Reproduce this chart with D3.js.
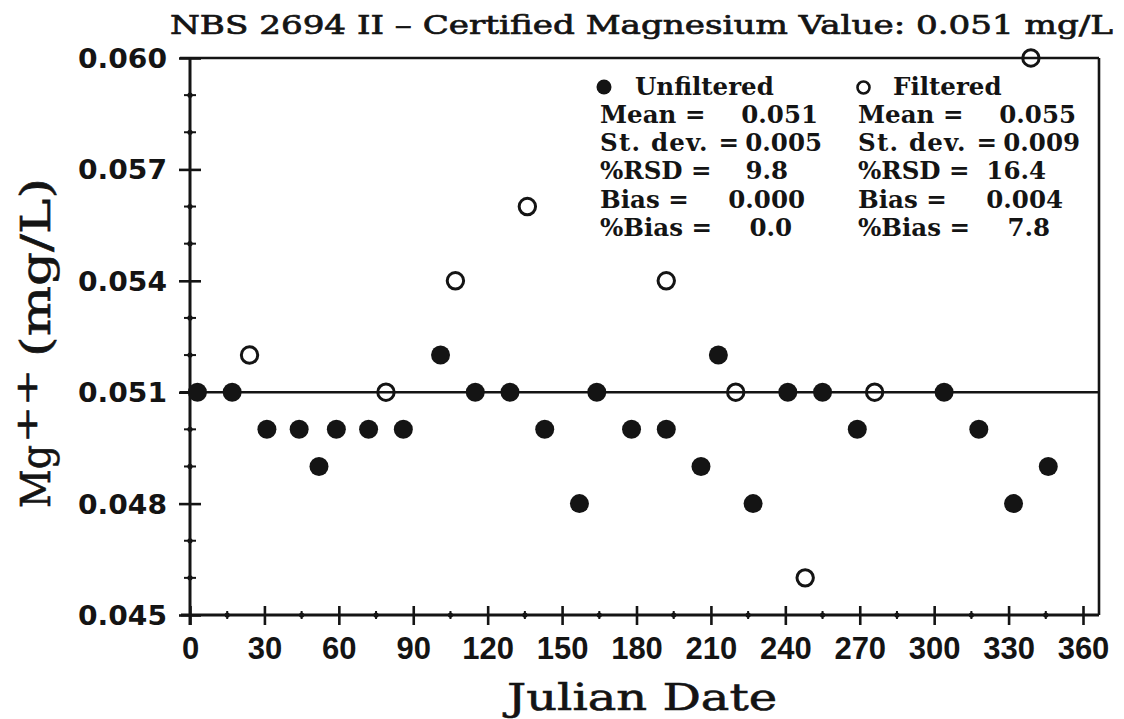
<!DOCTYPE html>
<html>
<head>
<meta charset="utf-8">
<script src="https://cdn.jsdelivr.net/npm/d3@7"></script>
<style>
  body { margin: 0; background: #fff; }
  svg { display: block; }
</style>
</head>
<body>
<svg id="chart" width="1124" height="719"></svg>
<script>
// Mg++ check-standard results over the year
const unfilteredDays = [3, 17, 31, 44, 52, 59, 72, 86, 101, 115, 129, 143, 157, 164, 178, 192, 206, 213, 227, 241, 255, 269, 304, 318, 332, 346];
const unfilteredMg   = [0.051, 0.051, 0.050, 0.050, 0.049, 0.050, 0.050, 0.050, 0.052, 0.051, 0.051, 0.050, 0.048, 0.051, 0.050, 0.050, 0.049, 0.052, 0.048, 0.051, 0.051, 0.050, 0.051, 0.050, 0.048, 0.049];

const filteredDays = [24, 79, 107, 136, 192, 220, 248, 276, 339];
const filteredMg   = [0.052, 0.051, 0.054, 0.056, 0.054, 0.051, 0.046, 0.051, 0.060];

const certifiedValue = 0.051;

// Axis ticks
const xMajorTicks = [0, 30, 60, 90, 120, 150, 180, 210, 240, 270, 300, 330, 360];
const xMinorTicks = [15, 45, 75, 105, 135, 165, 195, 225, 255, 285, 315, 345];
const yMajorTicks = [0.045, 0.048, 0.051, 0.054, 0.057, 0.060];
const yMinorTicks = [0.046, 0.047, 0.049, 0.050, 0.052, 0.053, 0.055, 0.056, 0.058, 0.059];

// Summary statistics
const statLabels      = ["Mean =", "St. dev. =", "%RSD =", "Bias =", "%Bias ="];
const unfilteredStats = ["0.051", "0.005", "9.8", "0.000", "0.0"];
const filteredStats   = ["0.055", "0.009", "16.4", "0.004", "7.8"];

const titleText = "NBS 2694 II \u2013 Certified Magnesium Value: 0.051 mg/L";

const ink = "#141414";
const svg = d3.select("#chart");

const x = d3.scaleLinear().domain([0, 360]).range([190, 1083]);
const y = d3.scaleLinear().domain([0.045, 0.060]).range([615, 58]);
const frameRight = x(360) + 16;

// Title
svg.append("text")
  .attr("x", 170).attr("y", 34)
  .attr("textLength", 943).attr("lengthAdjust", "spacingAndGlyphs")
  .style("font-family", "DejaVu Serif").style("font-size", "26px")
  .attr("fill", ink).attr("stroke", ink).attr("stroke-width", 0.7)
  .text(titleText);

// Frame: top and right edges
svg.append("line")
  .attr("x1", 180).attr("x2", frameRight).attr("y1", y(0.060)).attr("y2", y(0.060))
  .attr("stroke", ink).attr("stroke-width", 2.6);
svg.append("line")
  .attr("x1", frameRight).attr("x2", frameRight).attr("y1", y(0.060)).attr("y2", y(0.045))
  .attr("stroke", ink).attr("stroke-width", 2.6);

// Certified value reference line
svg.append("line")
  .attr("x1", 180).attr("x2", frameRight)
  .attr("y1", y(certifiedValue)).attr("y2", y(certifiedValue))
  .attr("stroke", ink).attr("stroke-width", 2.6);

// Y axis
const yAxis = svg.append("g").attr("transform", `translate(${x(0)},0)`)
  .call(d3.axisLeft(y).tickValues(yMajorTicks).tickFormat(d3.format(".3f")).tickSize(0).tickPadding(23));
yAxis.select(".domain").remove();
yAxis.selectAll(".tick line")
  .attr("x1", -11).attr("x2", 11).attr("stroke", ink).attr("stroke-width", 2.6);
yAxis.selectAll(".tick text")
  .attr("dy", null).attr("y", 9.5)
  .attr("textLength", 89).attr("lengthAdjust", "spacingAndGlyphs")
  .style("font-family", "DejaVu Sans").style("font-weight", "bold").style("font-size", "26px")
  .attr("fill", ink);
svg.append("line")
  .attr("x1", x(0)).attr("x2", x(0)).attr("y1", y(0.060)).attr("y2", y(0.045) + 10)
  .attr("stroke", ink).attr("stroke-width", 3);

const yMinor = svg.append("g");
yMinor.selectAll("line").data(yMinorTicks).join("line")
  .attr("x1", x(0) - 6).attr("x2", x(0) + 6)
  .attr("y1", d => y(d)).attr("y2", d => y(d))
  .attr("stroke", ink).attr("stroke-width", 2);
yMinor.selectAll("circle").data(yMinorTicks).join("circle")
  .attr("cx", x(0)).attr("cy", d => y(d)).attr("r", 2.6).attr("fill", ink);

// X axis
const xAxis = svg.append("g").attr("transform", `translate(0,${y(0.045)})`)
  .call(d3.axisBottom(x).tickValues(xMajorTicks).tickFormat(d3.format("d")).tickSize(0));
xAxis.select(".domain").remove();
xAxis.selectAll(".tick line")
  .attr("y1", -9).attr("y2", 10).attr("stroke", ink).attr("stroke-width", 2.6);
xAxis.selectAll(".tick text")
  .attr("dy", null).attr("y", 44)
  .style("font-family", "Liberation Sans").style("font-weight", "bold").style("font-size", "31px")
  .attr("fill", ink);
svg.append("line")
  .attr("x1", 181).attr("x2", frameRight).attr("y1", y(0.045)).attr("y2", y(0.045))
  .attr("stroke", ink).attr("stroke-width", 3);

const xMinor = svg.append("g");
xMinor.selectAll("line").data(xMinorTicks).join("line")
  .attr("x1", d => x(d)).attr("x2", d => x(d))
  .attr("y1", y(0.045) - 4).attr("y2", y(0.045) + 4)
  .attr("stroke", ink).attr("stroke-width", 2);
xMinor.selectAll("circle").data(xMinorTicks).join("circle")
  .attr("cx", d => x(d)).attr("cy", y(0.045)).attr("r", 2.6).attr("fill", ink);

// Axis titles
svg.append("text")
  .attr("x", 507).attr("y", 710)
  .attr("textLength", 270).attr("lengthAdjust", "spacingAndGlyphs")
  .style("font-family", "DejaVu Serif").style("font-size", "37px")
  .attr("fill", ink).attr("stroke", ink).attr("stroke-width", 0.6)
  .text("Julian Date");

const yTitleParts = [
  { text: "Mg",     bx: 50, start: 508, len: 63,  size: 41 },
  { text: "++",     bx: 37, start: 443, len: 74,  size: 30 },
  { text: "(mg/L)", bx: 50, start: 357, len: 179, size: 41 }
];
svg.append("g").selectAll("text").data(yTitleParts).join("text")
  .attr("transform", d => `translate(${d.bx},${d.start}) rotate(-90)`)
  .attr("textLength", d => d.len).attr("lengthAdjust", "spacingAndGlyphs")
  .style("font-family", "DejaVu Serif").style("font-size", d => d.size + "px")
  .attr("fill", ink).attr("stroke", ink).attr("stroke-width", 0.6)
  .text(d => d.text);

// Data points
svg.append("g").selectAll("circle")
  .data(unfilteredDays.map((d, i) => [d, unfilteredMg[i]]))
  .join("circle")
  .attr("cx", d => x(d[0])).attr("cy", d => y(d[1]))
  .attr("r", 9.5).attr("fill", ink);

svg.append("g").selectAll("circle")
  .data(filteredDays.map((d, i) => [d, filteredMg[i]]))
  .join("circle")
  .attr("cx", d => x(d[0])).attr("cy", d => y(d[1]))
  .attr("r", 8.2).attr("fill", "none").attr("stroke", ink).attr("stroke-width", 3);

// Legend with summary statistics
const legendFont = sel => sel
  .style("font-family", "DejaVu Serif").style("font-weight", "bold").style("font-size", "24.5px")
  .attr("fill", ink);
const valueEnds = [218, 222, 188, 205, 192];
const labelWidths = [null, 139, null, null, null];
const rowBase = 123, rowStep = 28.2;

function legendColumn(colX, name, stats, filled) {
  const g = svg.append("g");
  if (filled) {
    g.append("circle").attr("cx", colX + 4).attr("cy", 87).attr("r", 7.5).attr("fill", ink);
  } else {
    g.append("circle").attr("cx", colX + 5.5).attr("cy", 87.5).attr("r", 6)
      .attr("fill", "none").attr("stroke", ink).attr("stroke-width", 2.6);
  }
  g.append("text").attr("x", colX + 35).attr("y", 95).call(legendFont).text(name);
  g.selectAll("text.lab").data(statLabels).join("text").attr("class", "lab")
    .attr("x", colX).attr("y", (d, i) => rowBase + i * rowStep)
    .attr("textLength", (d, i) => labelWidths[i])
    .call(legendFont).text(d => d);
  g.selectAll("text.val").data(stats).join("text").attr("class", "val")
    .attr("x", (d, i) => colX + valueEnds[i]).attr("y", (d, i) => rowBase + i * rowStep)
    .attr("text-anchor", "end")
    .call(legendFont).text(d => d);
}
legendColumn(600, "Unfiltered", unfilteredStats, true);
legendColumn(858, "Filtered", filteredStats, false);
</script>
</body>
</html>
